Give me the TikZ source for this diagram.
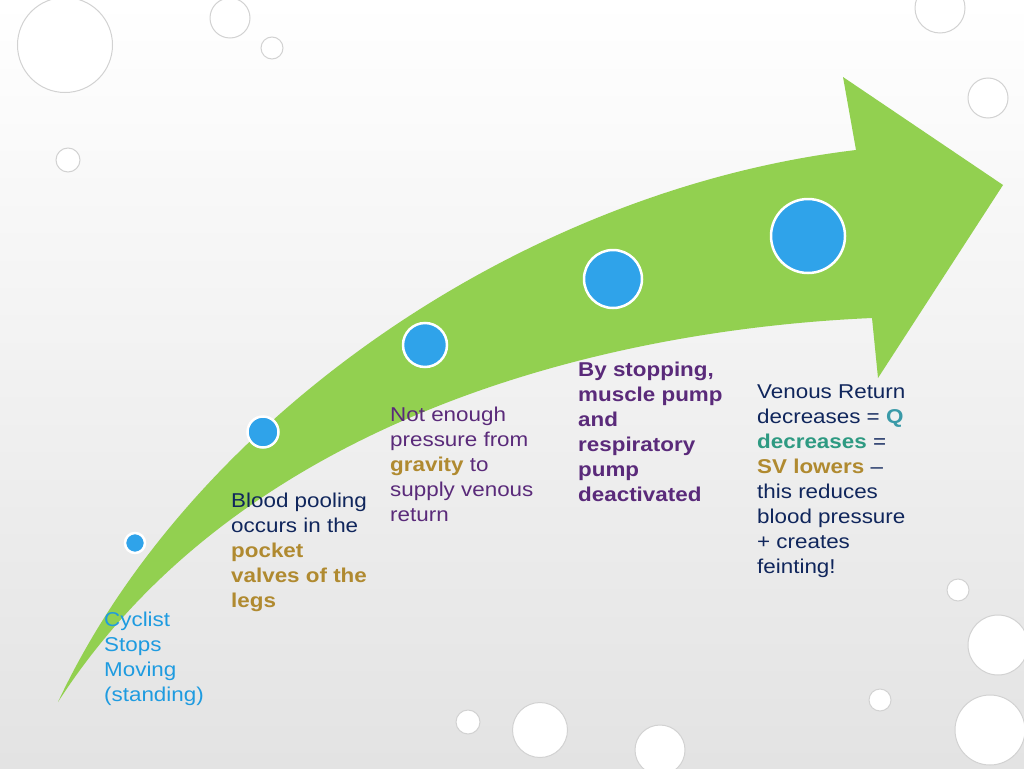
\documentclass[tikz,border=0pt]{standalone}
\usepackage{fontspec}
\setmainfont{Liberation Sans}[FakeStretch=1.12]
\begin{document}
\begin{tikzpicture}[x=1pt,y=-1pt,
  txt/.style={anchor=north west,align=left,font=\fontsize{20}{25}\selectfont,inner sep=0pt},
  dot/.style={circle,fill=dotblue,draw=white,line width=2.5pt,inner sep=0pt},
  drop/.style={circle,fill=white,draw=gray!35,line width=1pt,inner sep=0pt}]
\definecolor{green1}{HTML}{92D050}
\definecolor{dotblue}{HTML}{2FA3EA}
\definecolor{cblue}{HTML}{1E9BE0}
\definecolor{navy}{HTML}{10265C}
\definecolor{purp}{HTML}{5A2A7A}
\definecolor{gold}{HTML}{B08A30}
\definecolor{teal1}{HTML}{3A9AA8}
\definecolor{teal2}{HTML}{2E9A82}
\useasboundingbox (0,0) rectangle (1024,768);
\shade[top color=white,bottom color=gray!22] (0,0) rectangle (1024,768);
% drops
\node[drop,minimum size=95] (d1) at (65,45) {};
\node[drop,minimum size=40] (d2) at (230,18) {};
\node[drop,minimum size=22] (d3) at (272,48) {};
\node[drop,minimum size=24] (d4) at (68,160) {};
\node[drop,minimum size=40] (d5) at (988,98) {};
\node[drop,minimum size=50] (d6) at (940,8) {};
\node[drop,minimum size=22] (d7) at (958,590) {};
\node[drop,minimum size=60] (d8) at (998,645) {};
\node[drop,minimum size=70] (d9) at (990,730) {};
\node[drop,minimum size=55] (d10) at (540,730) {};
\node[drop,minimum size=50] (d11) at (660,750) {};
\node[drop,minimum size=24] (d12) at (468,722) {};
\node[drop,minimum size=22] (d13) at (880,700) {};
% arrow
\fill[green1] (58,702) .. controls (190,420) and (520,190) .. (856,150)
  -- (843,77) -- (1003,185) -- (878,378) -- (872,318)
  .. controls (600,330) and (240,420) .. (58,702) -- cycle;
\node[dot,minimum size=20] (c1) at (135,543) {};
\node[dot,minimum size=31] (c2) at (263,432) {};
\node[dot,minimum size=44] (c3) at (425,345) {};
\node[dot,minimum size=58] (c4) at (613,279) {};
\node[dot,minimum size=74] (c5) at (808,236) {};
\node[txt,text=cblue] (t1) at (104,612) {Cyclist\\Stops\\Moving\\(standing)};
\node[txt,text=navy] (t2) at (231,493) {Blood pooling\\occurs in the\\\textcolor{gold}{\textbf{pocket}}\\\textcolor{gold}{\textbf{valves of the}}\\\textcolor{gold}{\textbf{legs}}};
\node[txt,text=purp] (t3) at (390,407) {Not enough\\pressure from\\\textcolor{gold}{\textbf{gravity}} to\\supply venous\\return};
\node[txt,text=purp,font=\bfseries\fontsize{20}{25}\selectfont] (t4) at (578,362) {By stopping,\\muscle pump\\and\\respiratory\\pump\\deactivated};
\node[txt,text=navy] (t5) at (757,385) {Venous Return\\decreases = \textcolor{teal1}{\textbf{Q}}\\\textcolor{teal2}{\textbf{decreases}} =\\\textcolor{gold}{\textbf{SV lowers}} --\\this reduces\\blood pressure\\+ creates\\feinting!};
\end{tikzpicture}
\end{document}
